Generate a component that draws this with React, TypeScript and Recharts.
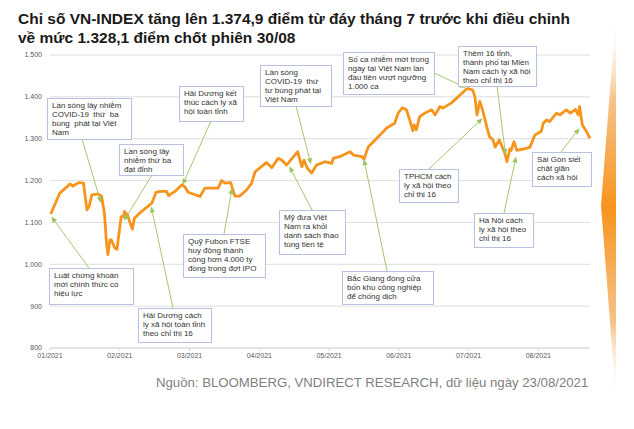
import React from 'react';
import { LineChart, Line, XAxis, YAxis, CartesianGrid, ReferenceDot } from 'recharts';

// position in months counted from 01/2021 (0 = 01/2021, 1 = 02/2021 ...)
const monthPos = [
  0.01, 0.14, 0.29, 0.33, 0.41, 0.48, 0.53, 0.56, 0.6, 0.69,
  0.74, 0.78, 0.81, 0.83, 0.86, 0.88, 0.93, 0.96, 0.99, 1.02,
  1.05, 1.07, 1.11, 1.15, 1.18, 1.21, 1.31, 1.46, 1.52, 1.58,
  1.67, 1.7, 1.79, 1.89, 1.93, 1.98, 2.15, 2.22, 2.41, 2.46,
  2.51, 2.59, 2.65, 2.72, 2.82, 2.89, 2.94, 3.1, 3.18, 3.27,
  3.32, 3.39, 3.55, 3.61, 3.64, 3.69, 3.75, 3.82, 3.94, 4.04,
  4.06, 4.15, 4.3, 4.35, 4.47, 4.5, 4.56, 4.73, 4.78, 4.82,
  4.94, 4.99, 5.05, 5.11, 5.17, 5.2, 5.22, 5.25, 5.3, 5.37,
  5.47, 5.52, 5.59, 5.63, 5.75, 5.85, 5.95, 5.99, 6.06, 6.09,
  6.12, 6.16, 6.2, 6.26, 6.3, 6.35, 6.38, 6.44, 6.47, 6.52,
  6.55, 6.59, 6.61, 6.65, 6.69, 6.83, 6.88, 6.95, 7.04, 7.07,
  7.12, 7.16, 7.26, 7.31, 7.4, 7.46, 7.53, 7.57, 7.59, 7.63,
  7.69, 7.74,
];

const vnIndex = [
  1120, 1170, 1192, 1187, 1195, 1194, 1130, 1138, 1166, 1168,
  1162, 1122, 1050, 1023, 1058, 1058, 1039, 1036, 1075, 1114,
  1113, 1126, 1118, 1098, 1084, 1110, 1126, 1146, 1172, 1174,
  1174, 1164, 1174, 1190, 1186, 1172, 1162, 1182, 1182, 1200,
  1194, 1195, 1163, 1163, 1178, 1194, 1221, 1243, 1231, 1253,
  1249, 1237, 1269, 1233, 1249, 1229, 1218, 1237, 1245, 1241,
  1253, 1257, 1269, 1261, 1257, 1251, 1280, 1309, 1317, 1325,
  1337, 1361, 1374, 1369, 1337, 1319, 1333, 1321, 1353, 1361,
  1369, 1357, 1377, 1373, 1385, 1400, 1416, 1420, 1416, 1400,
  1357, 1389, 1369, 1329, 1305, 1297, 1280, 1297, 1285, 1265,
  1245, 1275, 1272, 1293, 1272, 1277, 1280, 1309, 1317, 1337,
  1345, 1341, 1361, 1357, 1369, 1361, 1370, 1357, 1377, 1333,
  1317, 1301,
];

const monthLabels = ['01/2021', '02/2021', '03/2021', '04/2021', '05/2021', '06/2021', '07/2021', '08/2021'];
const monthTicks = [0, 1, 2, 3, 4, 5, 6, 7];
const yTicks = [800, 900, 1000, 1100, 1200, 1300, 1400, 1500];

// where each event arrow points (month position, index level)
const eventPos = [0.73, 1.06, 1.9, 3.74, 5.96, 6.53, 6.2, 7.59, 6.68, 4.5, 3.43, 2.61, 0.02, 1.45];
const eventValue = [1147, 1104, 1190, 1239, 1422, 1261, 1349, 1325, 1257, 1251, 1234, 1182, 1114, 1138];
const eventText = [
  ['Lần sóng lây nhiễm', 'COVID-19  thứ  ba', 'bùng  phát tại Việt', 'Nam'],
  ['Lần sóng lây', 'nhiễm thứ ba', 'đạt đỉnh'],
  ['Hải Dương kết', 'thúc cách ly xã', 'hội toàn tỉnh'],
  ['Làn sóng', 'COVID-19  thứ', 'tư bùng phát tại', 'Việt Nam'],
  ['Số ca nhiễm mới trong', 'ngày tại Việt Nam lần', 'đầu tiên vượt ngưỡng', '1.000 ca'],
  ['Thêm 16 tỉnh,', 'thành phố tại Miền', 'Nam cách ly xã hội', 'theo chỉ thị 16'],
  ['TPHCM cách', 'ly xã hội theo', 'chỉ thị 16'],
  ['Sài Gòn siết', 'chặt giãn', 'cách xã hội'],
  ['Hà Nội cách', 'ly xã hội theo', 'chỉ thị 16'],
  ['Bắc Giang đóng cửa', 'bốn khu công nghiệp', 'để chống dịch'],
  ['Mỹ đưa Việt', 'Nam ra khỏi', 'danh sách thao', 'túng tiền tệ'],
  ['Quỹ Fubon FTSE', 'huy động thành', 'công hơn 4.000 tỷ', 'đồng trong đợt IPO'],
  ['Luật chứng khoán', 'mới chính thức có', 'hiệu lực'],
  ['Hải Dương cách', 'ly xã hội toàn tỉnh', 'theo chỉ thị 16'],
];

// callout boxes in px: x, y, w, h, arrow start x, arrow start y
const eventBox = [
  [47, 98, 84, 41, 82, 139],
  [119, 144, 64, 31, 152, 175],
  [179, 86, 64, 35, 211, 121],
  [260, 65, 71, 41, 296, 106],
  [343, 52, 91, 42, 434, 73],
  [458, 46, 78, 40, 497, 86],
  [399, 169, 59, 33, 429, 169],
  [532, 152, 59, 34, 561, 152],
  [474, 213, 59, 34, 504, 213],
  [342, 271, 91, 33, 387, 271],
  [279, 210, 66, 44, 312, 210],
  [183, 234, 82, 43, 224, 234],
  [49, 268, 84, 36, 89, 268],
  [138, 308, 73, 34, 173, 308],
];

const data = monthPos.map((p, i) => ({ pos: p, value: vnIndex[i] }));

const FONT = '"Liberation Sans", Arial, sans-serif';
const ORANGE = '#F7941D';
const GREEN = '#9BC25B';

const fmtY = (v: number) =>
  v >= 1000 ? `${Math.floor(v / 1000)}.${String(v % 1000).padStart(3, '0')}` : String(v);

const Callout = ({ cx, cy, i }: { cx: number; cy: number; i: number }) => {
  const [bx, by, bw, bh, fx, fy] = eventBox[i];
  const dx = cx - fx;
  const dy = cy - fy;
  const len = Math.sqrt(dx * dx + dy * dy) || 1;
  const ux = dx / len;
  const uy = dy / len;
  const hx = cx - ux * 6;
  const hy = cy - uy * 6;
  const head = `${cx},${cy} ${hx - uy * 2.6},${hy + ux * 2.6} ${hx + uy * 2.6},${hy - ux * 2.6}`;
  return (
    <g>
      <line x1={fx} y1={fy} x2={hx} y2={hy} stroke={GREEN} strokeWidth={0.9} />
      <polygon points={head} fill={GREEN} />
      <rect x={bx + 0.5} y={by + 0.5} width={bw} height={bh} fill="#fff" stroke="#B8C2DE" strokeWidth={1} />
      <text x={bx + 5} y={by + 10} fontSize={8} fill="#333" fontFamily={FONT} style={{ whiteSpace: 'pre' }}>
        {eventText[i].map((t, k) => (
          <tspan key={k} x={bx + 5} dy={k === 0 ? 0 : 8.9}>
            {t}
          </tspan>
        ))}
      </text>
    </g>
  );
};

export default function App() {
  return (
    <div style={{ position: 'relative', width: 634, height: 429, background: '#fff', fontFamily: FONT }}>
      <style>{'body{margin:0}'}</style>
      <div style={{ position: 'absolute', left: 0, top: 0 }}>
        <LineChart width={634} height={429} data={data} margin={{ top: 55, right: 44, left: 0, bottom: 51 }}>
          <CartesianGrid vertical={false} stroke="#dedede" />
          <XAxis
            dataKey="pos"
            type="number"
            domain={[0, 7.74]}
            ticks={monthTicks}
            interval={0}
            tickFormatter={(v: number) => monthLabels[v]}
            height={30}
            tickSize={3}
            tickMargin={2}
            axisLine={{ stroke: '#d9d9d9' }}
            tickLine={{ stroke: '#d9d9d9' }}
            tick={{ fontSize: 7, fill: '#595959', fontFamily: FONT }}
          />
          <YAxis
            domain={[800, 1500]}
            ticks={yTicks}
            width={50}
            axisLine={false}
            tickLine={false}
            tickSize={6}
            tickMargin={2}
            tickFormatter={fmtY}
            tick={{ fontSize: 7, fill: '#595959', fontFamily: FONT }}
          />
          <Line
            type="linear"
            dataKey="value"
            stroke={ORANGE}
            strokeWidth={2.8}
            strokeLinejoin="round"
            dot={false}
            isAnimationActive={false}
          />
          {eventPos.map((p, i) => (
            <ReferenceDot
              key={i}
              x={p}
              y={eventValue[i]}
              r={0}
              ifOverflow="visible"
              shape={(s: any) => <Callout cx={s.cx} cy={s.cy} i={i} />}
            />
          ))}
        </LineChart>
      </div>
      <svg width={634} height={429} style={{ position: 'absolute', left: 0, top: 0, pointerEvents: 'none' }}>
        <defs>
          <linearGradient id="spindle" x1="0" y1="0" x2="0" y2="1">
            <stop offset="0" stopColor="#fff" stopOpacity={0} />
            <stop offset="0.22" stopColor="#F6C38A" />
            <stop offset="0.5" stopColor={ORANGE} />
            <stop offset="0.8" stopColor="#F6C38A" />
            <stop offset="1" stopColor="#fff" stopOpacity={0} />
          </linearGradient>
        </defs>
        <polygon points="616,14 601,205 616,400" fill="url(#spindle)" />
        <text x={18} y={23.5} fontSize={15.5} fontWeight="bold" fill="#1a1a1a" fontFamily={FONT}>
          Chỉ số VN-INDEX tăng lên 1.374,9 điểm từ đáy tháng 7 trước khi điều chỉnh
        </text>
        <text x={18} y={43} fontSize={15.5} fontWeight="bold" fill="#1a1a1a" fontFamily={FONT}>
          về mức 1.328,1 điểm chốt phiên 30/08
        </text>
        <text x={156} y={387} fontSize={13.2} fill="#7f7f7f" fontFamily={FONT}>
          Nguồn: BLOOMBERG, VNDIRECT RESEARCH, dữ liệu ngày 23/08/2021
        </text>
      </svg>
    </div>
  );
}
